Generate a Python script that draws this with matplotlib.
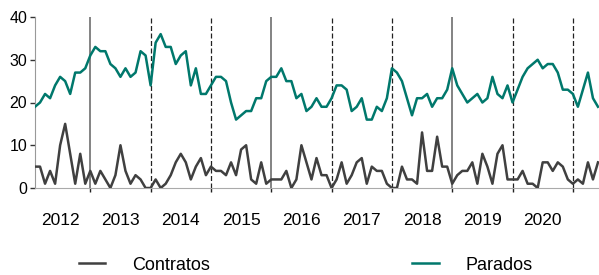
import matplotlib.pyplot as plt

plt.rcParams['font.family'] = ['Liberation Sans', 'DejaVu Sans']

# Series mensais
contratos = [5, 5, 1, 4, 1, 10, 15, 8, 1, 8, 1, 4, 1, 4, 2, 0, 3, 10, 4, 1, 3, 2, 0, 0,
             2, 0, 1, 3, 6, 8, 6, 2, 5, 7, 3, 5, 4, 4, 3, 6, 3, 9, 10, 2, 1, 6, 1,
             2, 2, 2, 4, 0, 2, 10, 6, 2, 7, 3, 3, 0, 2, 6, 1, 3, 6, 7, 1, 5, 4, 4, 1, 0, 0,
             5, 2, 2, 1, 13, 4, 4, 12, 5, 5, 1, 3, 4, 4, 6, 1, 8, 5, 1, 8, 10, 2, 2, 2,
             4, 1, 1, 0, 6, 6, 4, 6, 5, 2, 1, 2, 1, 6, 2, 6]
parados = [19, 20, 22, 21, 24, 26, 25, 22, 27, 27, 28, 31, 33, 32, 32, 29, 28, 26, 28, 26,
           27, 32, 31, 24, 34, 36, 33, 33, 29, 31, 32, 24, 28, 22,
           22, 24, 26, 26, 25, 20, 16, 17, 18, 18, 21, 21, 25, 26, 26, 28, 25, 25, 21, 22,
           18, 19, 21, 19, 19, 21, 24, 24, 23, 18, 19, 21, 16, 16, 19, 18, 21, 28, 27,
           25, 21, 17, 21, 21, 22, 19, 21, 21, 23, 28, 24, 22, 20, 21, 22, 20, 21, 26, 22,
           21, 24, 20, 23, 26, 28, 29, 30, 28, 29, 29, 27, 23, 23, 22, 19, 23, 27, 21, 19]
anos = ['2012', '2013', '2014', '2015', '2016', '2017', '2018', '2019', '2020']
linhas_solidas = [11, 47, 83]
linhas_tracejadas = [23, 35, 59, 71, 95, 107]

meses = list(range(len(parados)))

fig = plt.figure(figsize=(5.99, 2.75), dpi=100)
ax = fig.add_axes([35 / 599, 87 / 275, 564 / 599, 171 / 275])

# divisorias de ano
for x in linhas_solidas:
    ax.axvline(x, color='#7a7a7a', lw=1.3, zorder=1)
for x in linhas_tracejadas:
    ax.axvline(x, color='#222222', lw=0.9, ls=(0, (4, 2)), zorder=1)

ax.plot(meses, contratos, color='#404040', lw=1.8, label='Contratos', zorder=3)
ax.plot(meses, parados, color='#00786c', lw=1.8, label='Parados', zorder=3)

ax.set_xlim(0, 112.2)
ax.set_ylim(0, 40)
ax.set_yticks([0, 10, 20, 30, 40])
ax.tick_params(axis='y', labelsize=11.5, length=3.5, width=1, color='#333333', pad=2)

ax.set_xticks(sorted(linhas_solidas + linhas_tracejadas))
ax.set_xticklabels([])
ax.tick_params(axis='x', which='major', length=3, width=1, color='#222222')
ax.set_xticks([5 + 12 * i for i in range(len(anos))], minor=True)
ax.set_xticklabels(anos, minor=True)
ax.tick_params(axis='x', which='minor', length=0, labelsize=12.5, pad=18)

for s in ['top', 'right']:
    ax.spines[s].set_visible(False)
ax.spines['left'].set_color('#999999')
ax.spines['bottom'].set_color('#aaaaaa')

fig.legend(loc='center', bbox_to_anchor=(306 / 599, 10 / 275), ncol=2, frameon=False,
           fontsize=13, handlelength=1.45, handletextpad=1.5, columnspacing=11.2,
           borderpad=0.2)

fig.savefig('out.png', dpi=100)
